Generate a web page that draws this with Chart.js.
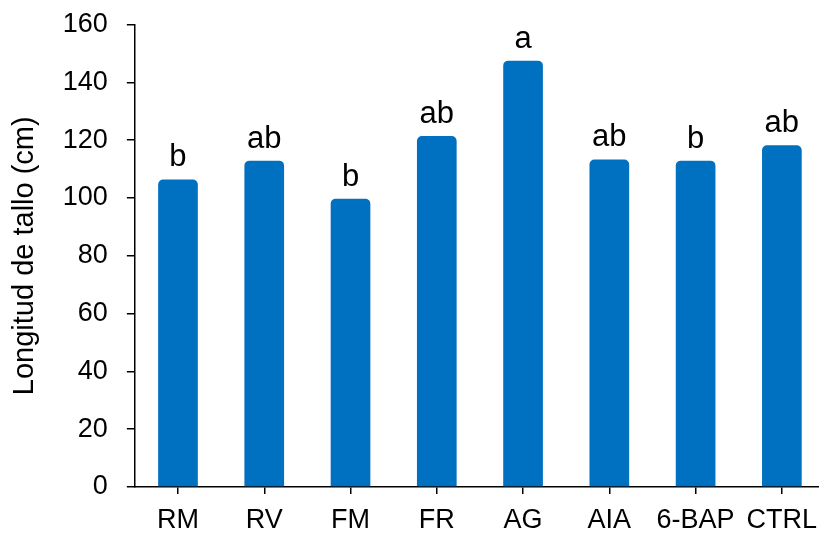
<!DOCTYPE html>
<html>
<head>
<meta charset="utf-8">
<script src="https://cdn.jsdelivr.net/npm/chart.js@4"></script>
<style>
  html, body { margin: 0; padding: 0; background: #fff; overflow: hidden; }
  #wrap { width: 826px; height: 533px; }
  #c { width: 826px; height: 533px; display: block; }
</style>
</head>
<body>
<div id="wrap"><canvas id="c" width="826" height="533"></canvas></div>
<script>
const categories = ['RM', 'RV', 'FM', 'FR', 'AG', 'AIA', '6-BAP', 'CTRL'];
const stemLength = [106.4, 112.9, 99.7, 121.4, 147.5, 113.3, 112.9, 118.2];
const groupLetters = ['b', 'ab', 'b', 'ab', 'a', 'ab', 'b', 'ab'];
const yTicks = [0, 20, 40, 60, 80, 100, 120, 140, 160];

const FONT = '"Liberation Sans", Arial, sans-serif';

const letterPlugin = {
  id: 'letters',
  afterDatasetsDraw(chart) {
    const ctx = chart.ctx;
    const meta = chart.getDatasetMeta(0);
    ctx.save();
    ctx.fillStyle = '#000';
    ctx.font = '31px ' + FONT;
    ctx.textAlign = 'center';
    ctx.textBaseline = 'alphabetic';
    meta.data.forEach((bar, i) => {
      ctx.fillText(groupLetters[i], bar.x, bar.y - 13);
    });
    ctx.restore();
  }
};

function noEdgePadding(scale) {
  scale.paddingTop = 0;
  scale.paddingBottom = 0;
  scale.paddingLeft = 0;
  scale.paddingRight = 0;
}

new Chart(document.getElementById('c'), {
  type: 'bar',
  data: {
    labels: categories,
    datasets: [{
      data: stemLength,
      backgroundColor: '#0070C0',
      borderRadius: 5,
      barPercentage: 0.46,
      categoryPercentage: 1.0
    }]
  },
  options: {
    responsive: false,
    animation: false,
    devicePixelRatio: 1,
    layout: { padding: { top: 24.5, left: 0, right: 1, bottom: -14 } },
    plugins: { legend: { display: false }, tooltip: { enabled: false } },
    scales: {
      x: {
        offset: true,
        afterFit: noEdgePadding,
        grid: { offset: false, drawOnChartArea: false, drawTicks: true, tickLength: 7, color: '#000', lineWidth: 1.5 },
        border: { color: '#000', width: 1.5 },
        ticks: { color: '#000', font: { family: FONT, size: 27, lineHeight: 1.0 }, padding: 13, maxRotation: 0, autoSkip: false }
      },
      y: {
        min: 0, max: 160,
        afterFit: noEdgePadding,
        afterBuildTicks(scale) { scale.ticks = yTicks.map(v => ({ value: v })); },
        grid: { drawOnChartArea: false, drawTicks: true, tickLength: 8, color: '#000', lineWidth: 1.5 },
        border: { color: '#000', width: 1.5 },
        ticks: { color: '#000', font: { family: FONT, size: 27 }, padding: 19 },
        title: {
          display: true,
          text: 'Longitud de tallo (cm)',
          color: '#000',
          font: { family: FONT, size: 29 },
          padding: { top: 8, bottom: 1 }
        }
      }
    }
  },
  plugins: [letterPlugin]
});
</script>
</body>
</html>
